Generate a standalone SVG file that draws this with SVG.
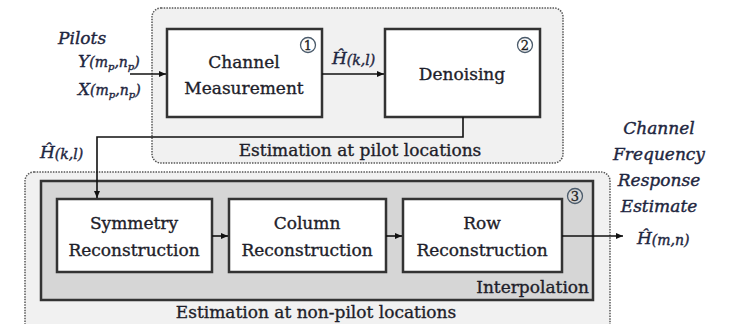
<svg xmlns="http://www.w3.org/2000/svg" width="730" height="324" viewBox="0 0 730 324">
<defs>
<marker id="ah" markerWidth="8" markerHeight="8" refX="7" refY="4" orient="auto" markerUnits="userSpaceOnUse">
<path d="M0,1 L7,4 L0,7 Z" fill="#111"/>
</marker>
<style>
.grp{fill:#f1f1f1;stroke:#555;stroke-width:1.5;stroke-dasharray:1.5 1.2}
.box{fill:#fff;stroke:#333;stroke-width:2.5}
.interp{fill:#d6d6d6;stroke:#333;stroke-width:2.5}
.t{font-family:"DejaVu Serif","Liberation Serif",serif;font-size:17px;fill:#1e1e2a;stroke:#1e1e2a;stroke-width:0.35;text-anchor:middle}
.it{font-family:"DejaVu Serif","Liberation Serif",serif;font-style:italic;font-size:17px;fill:#1e2640;stroke:#1e2640;stroke-width:0.4}
.num{font-family:"DejaVu Serif","Liberation Serif",serif;font-size:13px;fill:#222;stroke:#222;stroke-width:0.3;text-anchor:middle}
.circ{fill:none;stroke:#4a5a6a;stroke-width:1.3}
.conn{fill:none;stroke:#111;stroke-width:1.6}
</style>
</defs>
<g id="pilot-group">
<rect class="grp" x="152" y="8" width="411" height="155" rx="9"/>
<text class="t" x="360" y="156">Estimation at pilot locations</text>
</g>
<g id="nonpilot-group">
<rect class="grp" x="25" y="172" width="585" height="170" rx="9"/>
<text class="t" x="316" y="318">Estimation at non-pilot locations</text>
</g>
<g id="interpolation">
<rect class="interp" x="41" y="181" width="552" height="119"/>
<text class="t" x="589" y="293" style="text-anchor:end">Interpolation</text>
<circle class="circ" cx="575" cy="196" r="7.5"/>
<text class="num" x="575" y="200.5">3</text>
</g>
<g id="channel-measurement">
<rect class="box" x="167" y="29" width="155" height="88"/>
<text class="t" x="244" y="68">Channel</text>
<text class="t" x="244" y="94">Measurement</text>
<circle class="circ" cx="308" cy="45" r="7.5"/>
<text class="num" x="308" y="49.5">1</text>
</g>
<g id="denoising">
<rect class="box" x="385" y="29" width="155" height="88"/>
<text class="t" x="462" y="80">Denoising</text>
<circle class="circ" cx="525" cy="45" r="7.5"/>
<text class="num" x="525" y="49.5">2</text>
</g>
<g id="symmetry-reconstruction">
<rect class="box" x="57" y="199" width="155" height="73"/>
<text class="t" x="134" y="229">Symmetry</text>
<text class="t" x="134" y="256">Reconstruction</text>
</g>
<g id="column-reconstruction">
<rect class="box" x="229" y="199" width="157" height="73"/>
<text class="t" x="307" y="229">Column</text>
<text class="t" x="307" y="256">Reconstruction</text>
</g>
<g id="row-reconstruction">
<rect class="box" x="403" y="199" width="159" height="73"/>
<text class="t" x="482" y="229">Row</text>
<text class="t" x="482" y="256">Reconstruction</text>
</g>
<g id="labels">
<text class="it" x="58" y="44" font-size="18">Pilots</text>
<text class="it" x="78" y="67">Y<tspan font-size="14">(m</tspan><tspan font-size="10" dy="3">p</tspan><tspan font-size="14" dy="-3">,n</tspan><tspan font-size="10" dy="3">p</tspan><tspan font-size="14" dy="-3">)</tspan></text>
<text class="it" x="78" y="95">X<tspan font-size="14">(m</tspan><tspan font-size="10" dy="3">p</tspan><tspan font-size="14" dy="-3">,n</tspan><tspan font-size="10" dy="3">p</tspan><tspan font-size="14" dy="-3">)</tspan></text>
<text class="it" x="332" y="64">Ĥ<tspan font-size="14" dy="1">(k,l)</tspan></text>
<text class="it" x="40" y="158">Ĥ<tspan font-size="14" dy="1">(k,l)</tspan></text>
<text class="it" x="637" y="244">Ĥ<tspan font-size="14" dy="1">(m,n)</tspan></text>
<text class="it" x="659" y="134" text-anchor="middle">Channel</text>
<text class="it" x="659" y="160" text-anchor="middle">Frequency</text>
<text class="it" x="659" y="186" text-anchor="middle">Response</text>
<text class="it" x="659" y="212" text-anchor="middle">Estimate</text>
</g>
<g id="connectors">
<path class="conn" d="M130,74 H166" marker-end="url(#ah)"/>
<path class="conn" d="M322,74 H384" marker-end="url(#ah)"/>
<path class="conn" d="M463,117 V137 H97 V198" marker-end="url(#ah)"/>
<path class="conn" d="M212,236 H228" marker-end="url(#ah)"/>
<path class="conn" d="M386,236 H402" marker-end="url(#ah)"/>
<path class="conn" d="M562,236 H623" marker-end="url(#ah)"/>
</g>
</svg>
